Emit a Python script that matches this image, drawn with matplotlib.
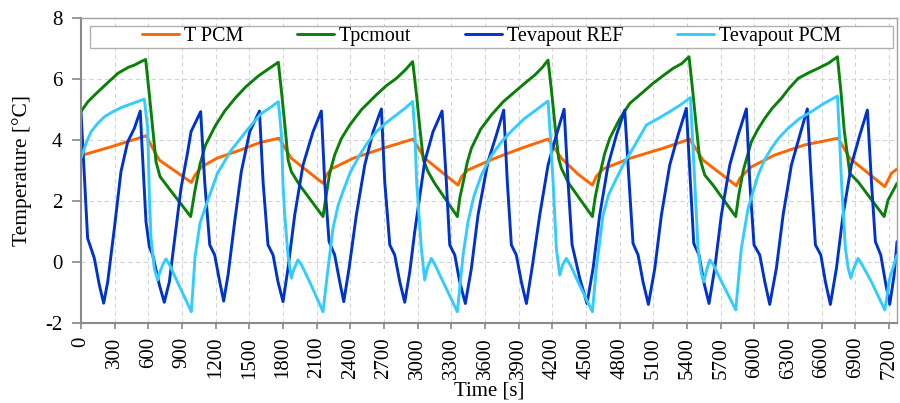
import matplotlib
matplotlib.use("Agg")
import matplotlib.pyplot as plt
from matplotlib.patches import Rectangle

# ---- data -------------------------------------------------------------
t_pcm_time = [0, 270, 582, 639, 698, 983, 1016, 1075, 1209, 1417, 1589, 1764, 1874, 2156,
              2186, 2230, 2424, 2691, 2958, 3062, 3359, 3390, 3448, 3686, 3923, 4161,
              4280, 4428, 4556, 4590, 4651, 4889, 5186, 5423, 5542, 5839, 5870, 5972,
              6181, 6448, 6745, 6849, 7161, 7220, 7270]
t_pcm = [3.49, 3.78, 4.14, 3.73, 3.34, 2.61, 2.85, 3.12, 3.40, 3.67, 3.91, 4.06, 3.40, 2.58,
         2.85, 3.05, 3.40, 3.73, 4.03, 3.40, 2.52, 2.80, 3.02, 3.40, 3.73, 4.03,
         3.40, 2.88, 2.52, 2.80, 3.05, 3.40, 3.73, 4.03, 3.34, 2.50, 2.75, 3.12,
         3.51, 3.84, 4.06, 3.40, 2.47, 2.91, 3.05]

tpcmout_time = [0, 60, 151, 250, 330, 420, 478, 540, 576, 609, 639, 668, 704, 772, 977,
                1016, 1060, 1110, 1194, 1280, 1380, 1470, 1580, 1690, 1758,
                1790, 1820, 1845, 1874, 1948, 2156,
                2185, 2215, 2260, 2320, 2394, 2500, 2631, 2720, 2809, 2890, 2955,
                2990, 3020, 3050, 3092, 3151, 3353,
                3375, 3404, 3440, 3478, 3560, 3656, 3760, 3864, 3960, 4043, 4110, 4161,
                4195, 4225, 4255, 4280, 4345, 4556,
                4580, 4621, 4665, 4711, 4800, 4889, 5000, 5097, 5190, 5275, 5350, 5417,
                5450, 5480, 5510, 5557, 5631, 5833,
                5860, 5900, 5972, 6030, 6092, 6160, 6240, 6310, 6389, 6480, 6567, 6660, 6739,
                6770, 6800, 6849, 6923, 7155, 7190, 7270]
tpcmout = [4.93, 5.25, 5.58, 5.92, 6.19, 6.38, 6.46, 6.58, 6.64, 5.48, 4.38, 3.29, 2.80, 2.47, 1.49,
           2.36, 3.20, 3.84, 4.45, 4.95, 5.40, 5.75, 6.10, 6.38, 6.55,
           5.45, 4.35, 3.35, 2.96, 2.52, 1.49,
           2.20, 2.90, 3.51, 4.05, 4.49, 5.00, 5.48, 5.78, 6.02, 6.30, 6.57,
           5.45, 4.35, 3.35, 2.96, 2.58, 1.49,
           2.10, 2.60, 3.25, 3.73, 4.35, 4.82, 5.25, 5.58, 5.88, 6.13, 6.38, 6.62,
           5.50, 4.40, 3.40, 3.07, 2.58, 1.49,
           2.10, 2.85, 3.55, 4.06, 4.70, 5.20, 5.55, 5.86, 6.12, 6.35, 6.50, 6.73,
           5.60, 4.50, 3.45, 2.85, 2.52, 1.49,
           2.20, 3.00, 3.94, 4.35, 4.71, 5.05, 5.37, 5.70, 6.02, 6.20, 6.35, 6.52, 6.73,
           5.60, 4.30, 2.91, 2.63, 1.49, 2.03, 2.58]

tevap_ref_time = [0, 59, 89, 119, 163, 202, 238, 297, 356, 416, 475, 528,
                  543, 579, 609, 639, 698, 742, 787, 846, 891, 951, 980, 1066,
                  1102, 1147, 1191, 1236, 1271, 1310, 1369, 1428, 1503, 1590,
                  1622, 1666, 1711, 1755, 1800, 1844, 1904, 1978, 2067, 2141,
                  2171, 2210, 2260, 2305, 2341, 2388, 2453, 2528, 2602, 2676,
                  2706, 2751, 2795, 2840, 2884, 2929, 2973, 3062, 3136, 3217,
                  3255, 3285, 3330, 3374, 3424, 3478, 3537, 3626, 3700, 3766,
                  3798, 3834, 3878, 3923, 3968, 4018, 4087, 4161, 4235, 4304,
                  4339, 4375, 4395, 4443, 4508, 4562, 4621, 4696, 4770, 4844,
                  4883, 4918, 4963, 5007, 5055, 5112, 5171, 5245, 5319, 5393,
                  5429, 5459, 5506, 5548, 5595, 5646, 5705, 5780, 5854, 5928,
                  5958, 5996, 6047, 6092, 6136, 6195, 6255, 6329, 6404, 6471,
                  6507, 6543, 6591, 6632, 6676, 6730, 6789, 6863, 6938, 7006,
                  7042, 7077, 7125, 7166, 7205, 7244, 7270]
tevap_ref = [4.92, 0.78, 0.45, 0.12, -0.75, -1.35, -0.65, 1.10, 2.96, 3.94, 4.38, 4.95,
             3.84, 1.32, 0.50, 0.23, -0.75, -1.32, -0.65, 1.10, 2.42, 3.62, 4.27, 4.93,
             2.63, 0.56, 0.23, -0.65, -1.28, -0.43, 1.32, 2.96, 4.27, 4.95,
             2.63, 0.56, 0.23, -0.65, -1.30, -0.21, 1.54, 3.18, 4.27, 4.95,
             2.63, 0.67, 0.23, -0.65, -1.30, -0.21, 1.54, 3.18, 4.27, 5.02,
             2.63, 0.56, 0.23, -0.65, -1.32, -0.32, 0.99, 3.29, 4.27, 4.95,
             2.63, 0.56, 0.23, -0.65, -1.36, -0.21, 1.54, 3.29, 4.16, 4.98,
             2.63, 0.56, 0.23, -0.65, -1.36, -0.21, 1.54, 3.18, 4.16, 5.01,
             2.63, 0.56, 0.25, -0.53, -1.36, -0.21, 1.54, 3.18, 4.16, 4.98,
             2.63, 0.61, 0.23, -0.65, -1.39, -0.21, 1.54, 3.18, 4.16, 5.04,
             2.63, 0.61, 0.23, -0.65, -1.36, -0.21, 1.54, 3.18, 4.16, 5.02,
             2.63, 0.56, 0.23, -0.65, -1.39, -0.21, 1.54, 3.18, 4.16, 5.02,
             2.63, 0.56, 0.23, -0.65, -1.39, -0.21, 1.54, 3.18, 4.16, 4.98,
             2.63, 0.67, 0.23, -0.65, -1.39, -0.43, 0.67]

tevap_pcm_time = [0, 45, 89, 150, 208, 280, 356, 460, 564,
                  594, 609, 624, 653, 683, 700, 728, 757, 790, 831, 983,
                  1016, 1060, 1120, 1215, 1335, 1485, 1600, 1700, 1758,
                  1785, 1800, 1815, 1844, 1874, 1895, 1933, 1965, 2037, 2156,
                  2201, 2245, 2290, 2334, 2400, 2483, 2550, 2631, 2720, 2809, 2890, 2955,
                  2975, 2990, 3032, 3062, 3085, 3121, 3155, 3210, 3353,
                  3404, 3448, 3500, 3567, 3650, 3745, 3850, 3953, 4060, 4161,
                  4180, 4206, 4235, 4265, 4290, 4324, 4360, 4428, 4556,
                  4591, 4651, 4700, 4770, 4840, 4918, 5037, 5140, 5245, 5340, 5429,
                  5445, 5468, 5497, 5525, 5548, 5575, 5602, 5635, 5691, 5833,
                  5883, 5943, 6032, 6090, 6151, 6220, 6299, 6400, 6507, 6620, 6739,
                  6755, 6775, 6810, 6835, 6858, 6885, 6923, 6960, 7042, 7161, 7205, 7270]
tevap_pcm = [3.40, 3.89, 4.27, 4.55, 4.76, 4.92, 5.06, 5.20, 5.34,
             4.38, 2.20, 0.78, -0.21, -0.59, -0.35, -0.10, 0.10, -0.10, -0.43, -1.63,
             0.17, 1.27, 1.92, 2.90, 3.65, 4.35, 4.85, 5.10, 5.26,
             4.20, 2.50, 1.54, 0.23, -0.53, -0.25, 0.07, -0.10, -0.65, -1.63,
             -0.21, 1.10, 1.85, 2.31, 2.95, 3.51, 3.90, 4.27, 4.57, 4.82, 5.05, 5.26,
             4.20, 2.63, 0.45, -0.59, -0.20, 0.12, -0.10, -0.53, -1.63,
             0.23, 1.32, 2.15, 2.85, 3.45, 3.94, 4.35, 4.71, 5.00, 5.28,
             4.20, 2.63, 0.45, -0.43, -0.10, 0.12, -0.10, -0.65, -1.63,
             -0.21, 1.54, 2.20, 2.74, 3.25, 3.73, 4.49, 4.70, 4.93, 5.15, 5.39,
             4.30, 2.63, 0.45, -0.35, -0.65, -0.25, 0.07, -0.10, -0.53, -1.57,
             0.45, 1.76, 2.85, 3.35, 3.73, 4.08, 4.38, 4.70, 4.93, 5.20, 5.44,
             4.30, 2.63, 0.45, -0.20, -0.53, -0.20, 0.12, -0.10, -0.65, -1.57, -0.53, 0.23]

series_names = ["T PCM", "Tpcmout", "Tevapout REF", "Tevapout PCM"]
series_colors = ["#FF6600", "#0A800A", "#0033CC", "#33CCFF"]

x_ticks = list(range(0, 7201, 300))
y_ticks = [-2, 0, 2, 4, 6, 8]

# ---- figure -----------------------------------------------------------
plt.rcParams["font.family"] = ["Liberation Serif", "DejaVu Serif"]
fig = plt.figure(figsize=(9.0, 4.03), dpi=100)
ax = fig.add_axes([0.09, 0.1985, 0.9067, 0.7568])

data = [(t_pcm_time, t_pcm), (tpcmout_time, tpcmout),
        (tevap_ref_time, tevap_ref), (tevap_pcm_time, tevap_pcm)]
for (tt, vv), name, col in zip(data, series_names, series_colors):
    ax.plot(tt, vv, color=col, lw=2.1, label=name,
            solid_joinstyle="round", solid_capstyle="round")

ax.set_xlim(0, 7270)
ax.set_ylim(-2, 8)
ax.set_xticks(x_ticks)
ax.set_xticklabels([str(v) for v in x_ticks], rotation=90, fontsize=15)
ax.set_yticks(y_ticks)
ax.set_yticklabels([str(v) for v in y_ticks], fontsize=15)
ax.tick_params(axis="x", direction="out", length=4, width=1.2, colors="#888888",
               labelcolor="black", pad=6)
ax.tick_params(axis="y", direction="out", length=6.5, width=1.2, colors="#888888",
               labelcolor="black", pad=7)

ax.grid(True, color="#d4d4d4", lw=0.8, linestyle=(0, (4, 3)))
ax.set_axisbelow(True)
for side in ["left", "bottom"]:
    ax.spines[side].set_color("#8a8a8a")
    ax.spines[side].set_linewidth(1.5)
for side in ["top", "right"]:
    ax.spines[side].set_color("#a0a0a0")
    ax.spines[side].set_linewidth(1.0)

ax.set_xlabel("Time [s]", fontsize=15, labelpad=2)
ax.set_ylabel("Temperature [°C]", fontsize=15.5, labelpad=9)

# legend box spanning the top of the plot area
ax.add_patch(Rectangle((0.011, 0.902), 0.984, 0.072, transform=ax.transAxes,
                       facecolor="white", edgecolor="#b0b0b0", lw=1.0, zorder=4))
ax.legend(loc="center", bbox_to_anchor=(0.503, 0.938), ncol=4, frameon=False,
          fontsize=14.5, handlelength=1.8, handletextpad=0.25, columnspacing=2.7,
          borderpad=0.1, borderaxespad=0)

fig.savefig("out.png", dpi=100)
